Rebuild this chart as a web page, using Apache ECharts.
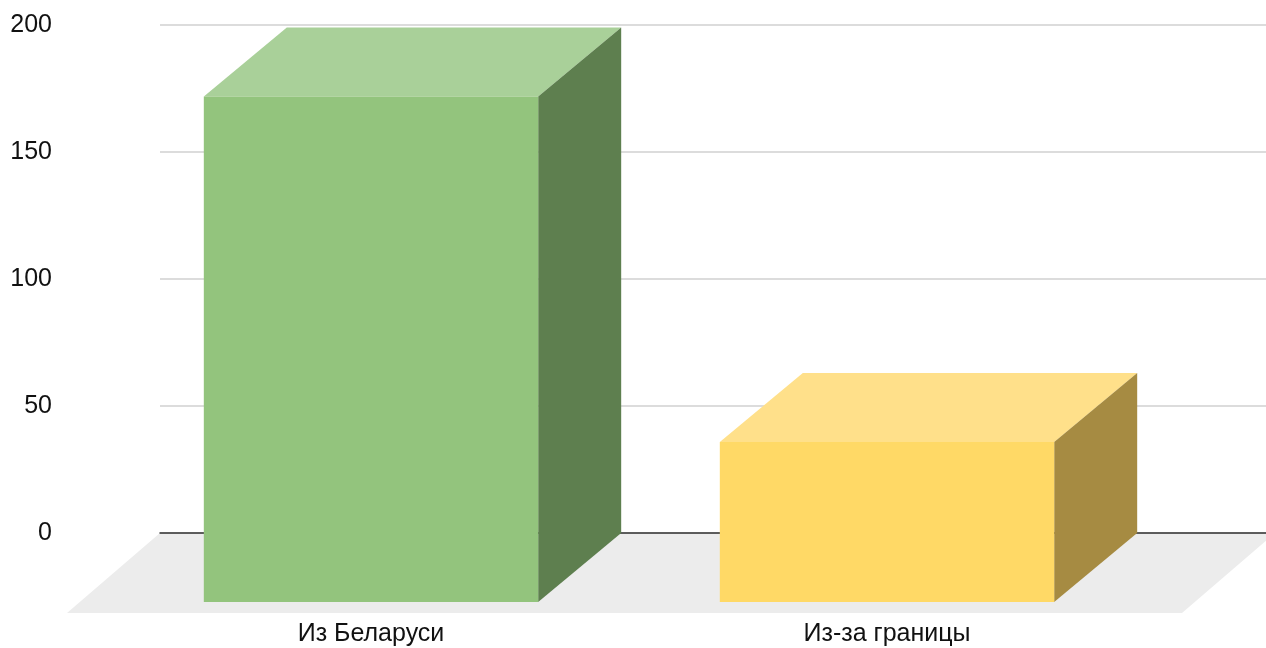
<!DOCTYPE html>
<html>
<head>
<meta charset="utf-8">
<script src="https://cdn.jsdelivr.net/npm/echarts@6/dist/echarts.min.js"></script>
<style>
  html, body { margin: 0; padding: 0; background: #fff; }
  #bar { width: 1266px; height: 648px; }
</style>
</head>
<body>
<div id="bar"></div>
<script>
  // данные
  var categories = ['Из Беларуси', 'Из-за границы']
  var values = [199, 63]
  var yTicks = [0, 50, 100, 150, 200]

  // цвета граней: перед, верх, бок
  var frontColors = ['#93c47d', '#ffd966']
  var topColors = ['#a9d099', '#ffe08a']
  var sideColors = ['#5e7f4f', '#a68b42']

  // глубина 3D
  var DX = 83
  var DY = 69

  // задняя стенка (сетка) и передняя плоскость баров
  var back = { left: 160, right: 0, top: 25, bottom: 115 }
  var front = { left: 113, right: 121, top: 94, bottom: 46 }
  var barRatio = 0.648

  function renderBox(params, api) {
    var idx = params.dataIndex
    var base = api.coord([api.value(0), 0])
    var top = api.coord([api.value(0), api.value(1)])
    var bw = api.size([1, 0])[0] * barRatio
    var x0 = top[0] - bw / 2
    var x1 = x0 + bw
    var y0 = top[1]
    var y1 = base[1]
    return {
      type: 'group',
      children: [
        {
          type: 'polygon',
          shape: { points: [[x0, y0], [x1, y0], [x1 + DX, y0 - DY], [x0 + DX, y0 - DY]] },
          style: { fill: topColors[idx] }
        },
        {
          type: 'polygon',
          shape: { points: [[x1, y0], [x1 + DX, y0 - DY], [x1 + DX, y1 - DY], [x1, y1]] },
          style: { fill: sideColors[idx] }
        },
        {
          type: 'rect',
          shape: { x: x0, y: y0, width: bw, height: y1 - y0 },
          style: { fill: frontColors[idx] }
        }
      ]
    }
  }

  function drawBar() {
    var dom = document.getElementById('bar')
    var myBar = echarts.init(dom)
    var W = dom.clientWidth
    var H = dom.clientHeight
    var floorBackY = H - back.bottom
    var floorDY = 80
    var floorDX = 93
    myBar.setOption({
      animation: false,
      textStyle: { fontFamily: 'Liberation Sans, Arial, sans-serif' },
      graphic: [
        {
          type: 'polygon',
          z: 0,
          shape: {
            points: [
              [back.left, floorBackY],
              [W + 9, floorBackY],
              [W + 9 - floorDX, floorBackY + floorDY],
              [back.left - floorDX, floorBackY + floorDY]
            ]
          },
          style: { fill: '#ececec' }
        }
      ],
      grid: [
        { left: back.left, right: back.right, top: back.top, bottom: back.bottom },
        { left: front.left, right: front.right, top: front.top, bottom: front.bottom }
      ],
      xAxis: [
        {
          type: 'category',
          gridIndex: 0,
          data: categories,
          axisLine: { show: true, lineStyle: { color: '#333', width: 1.5 } },
          axisTick: { show: false },
          axisLabel: { show: false },
          z: 3
        },
        {
          type: 'category',
          gridIndex: 1,
          data: categories,
          axisLine: { show: false },
          axisTick: { show: false },
          axisLabel: { margin: 20, fontSize: 25, color: '#111' }
        }
      ],
      yAxis: [
        {
          type: 'value',
          gridIndex: 0,
          min: yTicks[0],
          max: yTicks[yTicks.length - 1],
          interval: yTicks[1] - yTicks[0],
          axisLine: { show: false },
          axisTick: { show: false },
          axisLabel: { margin: 108, fontSize: 25, color: '#111' },
          splitLine: { lineStyle: { color: '#d0d0d0', width: 1.5 } }
        },
        {
          type: 'value',
          gridIndex: 1,
          min: yTicks[0],
          max: yTicks[yTicks.length - 1],
          show: false,
          splitLine: { show: false }
        }
      ],
      series: [
        {
          type: 'custom',
          xAxisIndex: 1,
          yAxisIndex: 1,
          z: 5,
          renderItem: renderBox,
          data: categories.map(function (c, i) { return [i, values[i]] })
        }
      ]
    })
  }

  drawBar()
</script>
</body>
</html>
